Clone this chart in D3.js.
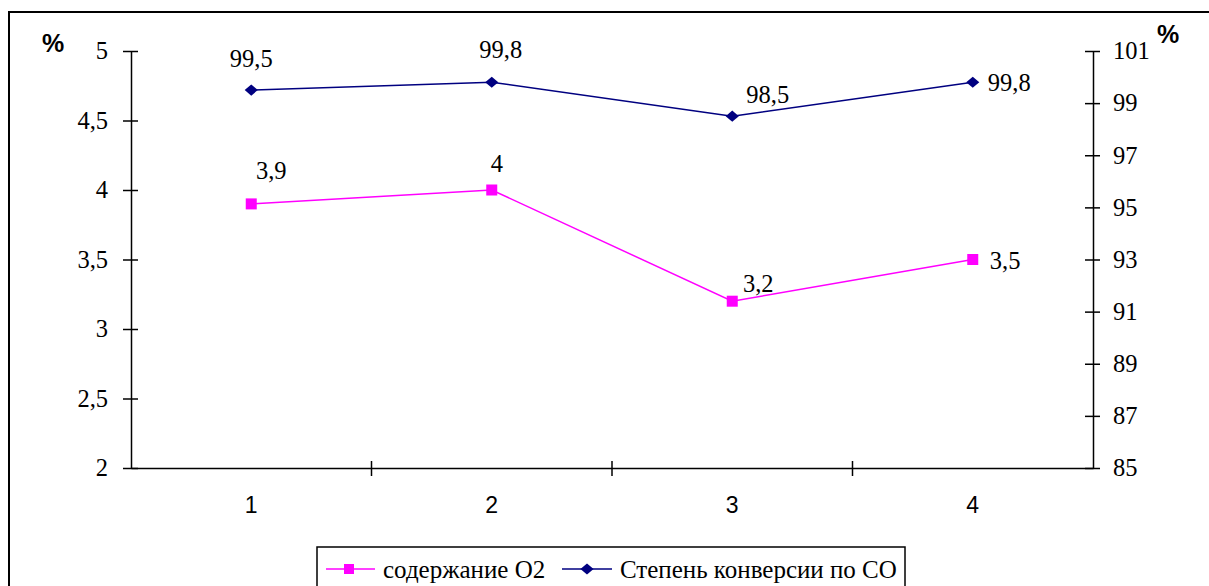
<!DOCTYPE html>
<html>
<head>
<meta charset="utf-8">
<script src="https://cdn.jsdelivr.net/npm/d3@7/dist/d3.min.js"></script>
<style>
  html, body { margin: 0; padding: 0; background: #fff; }
  svg { display: block; }
</style>
</head>
<body>
<svg id="chart" width="1209" height="586"></svg>
<script>
// Categories (experiment number)
const categories = ["1", "2", "3", "4"];
// O2 content, % (left axis)
const o2Values = [3.9, 4, 3.2, 3.5];
// CO conversion degree, % (right axis)
const coValues = [99.5, 99.8, 98.5, 99.8];
// Axis ticks
const leftTicks = [2, 2.5, 3, 3.5, 4, 4.5, 5];
const rightTicks = [85, 87, 89, 91, 93, 95, 97, 99, 101];
// Series names
const seriesNames = ["содержание О2", "Степень конверсии по СО"];

// Label placement offsets (dx, dy, anchor) relative to each point
const o2LabelPos = [[20, -25, "middle"], [5, -18, "middle"], [26, -9, "middle"], [17, 9, "start"]];
const coLabelPos = [[0, -23, "middle"], [9, -24, "middle"], [14, -13, "start"], [15, 9, "start"]];

const svg = d3.select("#chart");
const SERIF = '"Liberation Serif"';
const SANS = '"Liberation Sans"';
const fmt = d => String(d).replace(".", ",");
const serifText = sel => sel.style("font-family", SERIF).style("font-size", "24.5px").attr("fill", "#000");

const plotLeft = 131, plotRight = 1093, plotTop = 51, plotBottom = 468;

// Outer frame (right and bottom edges lie outside the view)
svg.append("rect")
  .attr("x", 9).attr("y", 12)
  .attr("width", 1240).attr("height", 620)
  .attr("fill", "none").attr("stroke", "#000").attr("stroke-width", 2);

const x = d3.scaleBand().domain(categories).range([plotLeft, plotRight]).padding(0);
const yL = d3.scaleLinear().domain([2, 5]).range([plotBottom, plotTop]);
const yR = d3.scaleLinear().domain([85, 101]).range([plotBottom, plotTop]);
const cx = c => x(c) + x.bandwidth() / 2;

// Left axis
const gL = svg.append("g").attr("transform", `translate(${plotLeft},0)`)
  .call(d3.axisLeft(yL).tickValues(leftTicks).tickFormat(fmt).tickSizeInner(8).tickSizeOuter(0).tickPadding(15));
gL.selectAll(".tick line").attr("x1", 7);
gL.selectAll(".tick text").call(serifText);
gL.select(".domain").attr("stroke", "#000").attr("stroke-width", 1.5);
gL.selectAll(".tick line").attr("stroke", "#000").attr("stroke-width", 1.5);

// Right axis
const gR = svg.append("g").attr("transform", `translate(${plotRight},0)`)
  .call(d3.axisRight(yR).tickValues(rightTicks).tickFormat(fmt).tickSizeInner(7).tickSizeOuter(0).tickPadding(13));
gR.selectAll(".tick line").attr("x1", -8);
gR.selectAll(".tick text").call(serifText);
gR.select(".domain").attr("stroke", "#000").attr("stroke-width", 1.5);
gR.selectAll(".tick line").attr("stroke", "#000").attr("stroke-width", 1.5);

// Bottom axis: labels at category centres, ticks at category boundaries
const gB = svg.append("g").attr("transform", `translate(0,${plotBottom})`)
  .call(d3.axisBottom(x).tickSize(0).tickPadding(29));
gB.select(".domain").attr("stroke", "#000").attr("stroke-width", 1.5);
gB.selectAll(".tick text").style("font-family", SANS).style("font-size", "23px").attr("fill", "#000");
const bounds = categories.slice(1).map(c => x(c));
gB.selectAll(".sep").data(bounds).join("line")
  .attr("x1", d => d).attr("x2", d => d)
  .attr("y1", -7).attr("y2", 8)
  .attr("stroke", "#000").attr("stroke-width", 1.5);

// Unit labels
svg.append("text").attr("x", 42).attr("y", 52)
  .style("font-family", SANS).style("font-weight", "bold").style("font-size", "25px").text("%");
svg.append("text").attr("x", 1157).attr("y", 43)
  .style("font-family", SANS).style("font-weight", "bold").style("font-size", "25px").text("%");

const o2Color = "#ff00ff", coColor = "#000080";
const diamond = d3.symbol().type(d3.symbolDiamond2).size(110);

// O2 series
svg.append("path").datum(o2Values)
  .attr("fill", "none").attr("stroke", o2Color).attr("stroke-width", 1.5)
  .attr("d", d3.line().x((d, i) => cx(categories[i])).y(d => yL(d)));
svg.selectAll(".o2pt").data(o2Values).join("rect")
  .attr("x", (d, i) => cx(categories[i]) - 5.5).attr("y", d => yL(d) - 5.5)
  .attr("width", 11).attr("height", 11).attr("fill", o2Color);

// CO series
svg.append("path").datum(coValues)
  .attr("fill", "none").attr("stroke", coColor).attr("stroke-width", 1.5)
  .attr("d", d3.line().x((d, i) => cx(categories[i])).y(d => yR(d)));
svg.selectAll(".copt").data(coValues).join("path")
  .attr("transform", (d, i) => `translate(${cx(categories[i])},${yR(d)}) scale(1,0.85)`)
  .attr("d", diamond).attr("fill", coColor);

// Value labels
svg.selectAll(".o2lbl").data(o2Values).join("text")
  .attr("x", (d, i) => cx(categories[i]) + o2LabelPos[i][0])
  .attr("y", (d, i) => yL(d) + o2LabelPos[i][1])
  .attr("text-anchor", (d, i) => o2LabelPos[i][2])
  .call(serifText).text(fmt);
svg.selectAll(".colbl").data(coValues).join("text")
  .attr("x", (d, i) => cx(categories[i]) + coLabelPos[i][0])
  .attr("y", (d, i) => yR(d) + coLabelPos[i][1])
  .attr("text-anchor", (d, i) => coLabelPos[i][2])
  .call(serifText).text(fmt);

// Legend
const lg = svg.append("g");
lg.append("rect").attr("x", 317).attr("y", 547).attr("width", 588).attr("height", 60)
  .attr("fill", "#fff").attr("stroke", "#000").attr("stroke-width", 1.5);
const ly = 569;
lg.append("line").attr("x1", 326).attr("x2", 375).attr("y1", ly).attr("y2", ly)
  .attr("stroke", o2Color).attr("stroke-width", 1.5);
lg.append("rect").attr("x", 344).attr("y", ly - 5).attr("width", 10).attr("height", 10).attr("fill", o2Color);
lg.append("text").attr("x", 383).attr("y", 578).call(serifText).style("font-size", "25px").text(seriesNames[0]);
lg.append("line").attr("x1", 562).attr("x2", 612).attr("y1", ly).attr("y2", ly)
  .attr("stroke", coColor).attr("stroke-width", 1.5);
lg.append("path").attr("transform", `translate(587,${ly}) scale(1,0.85)`).attr("d", diamond).attr("fill", coColor);
lg.append("text").attr("x", 620).attr("y", 578).call(serifText).style("font-size", "25px").text(seriesNames[1]);
</script>
</body>
</html>
